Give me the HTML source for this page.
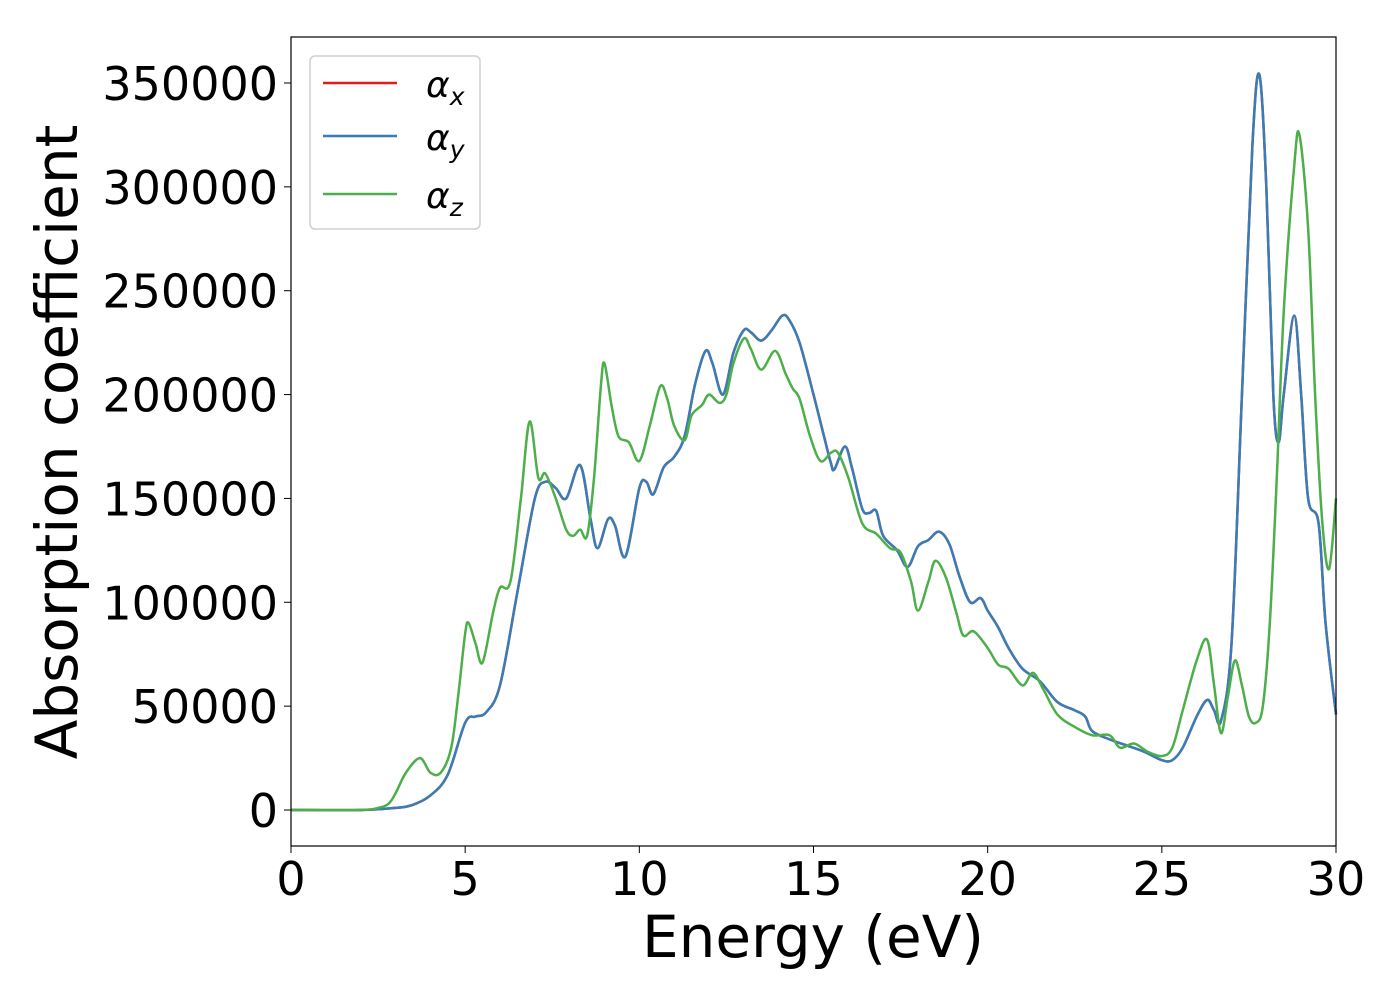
<!DOCTYPE html>
<html><head><meta charset="utf-8"><style>
body{margin:0;background:#fff;}
svg text{font-family:"DejaVu Sans","Liberation Sans",sans-serif;}
</style></head><body>
<svg id="chart" width="1400" height="1000" xmlns="http://www.w3.org/2000/svg">
<g id="plot"></g>
<g id="axes"></g>
<text x="813" y="957" font-size="58" text-anchor="middle">Energy (eV)</text>
<text transform="translate(77,442) rotate(-90)" font-size="58" text-anchor="middle">Absorption coefficient</text>
<g>
<rect x="310" y="56" width="170" height="173" rx="5" fill="#fff" stroke="#d0d0d0" stroke-width="1.5"/>
<line x1="323" y1="83" x2="397" y2="83" stroke="#e41a1c" stroke-width="2.5"/>
<text x="426" y="97" font-size="36" font-style="italic">α<tspan font-size="25" dy="8">x</tspan></text>
<line x1="323" y1="136" x2="397" y2="136" stroke="#377eb8" stroke-width="2.5"/>
<text x="426" y="150" font-size="36" font-style="italic">α<tspan font-size="25" dy="8">y</tspan></text>
<line x1="323" y1="194" x2="397" y2="194" stroke="#4daf4a" stroke-width="2.5"/>
<text x="426" y="208" font-size="36" font-style="italic">α<tspan font-size="25" dy="8">z</tspan></text>
</g>
</svg>
<script>
const xyEnergy=[0,2,3,3.5,4,4.5,5,5.3,5.6,6,6.5,7,7.3,7.6,7.9,8.3,8.6,8.8,9.1,9.3,9.6,10,10.2,10.4,10.7,11,11.3,11.6,11.9,12.1,12.4,12.7,13,13.2,13.5,13.8,14.1,14.3,14.6,15,15.3,15.5,15.6,15.9,16.1,16.4,16.6,16.8,17,17.4,17.7,18,18.3,18.6,18.9,19.2,19.5,19.8,20,20.3,20.6,21,21.5,22,22.5,22.8,23,23.5,24,24.5,25,25.3,25.6,26,26.3,26.5,26.7,27,27.3,27.6,27.8,28,28.2,28.35,28.5,28.8,29,29.2,29.5,29.7,30];
const xyValues=[0,0,1000,2500,7000,17000,42000,45000,47000,60000,105000,150000,158000,155000,150000,166000,140000,126000,140000,137000,122000,155000,158000,152000,165000,170000,180000,205000,221000,215000,200000,220000,231000,230000,226000,231000,238000,236000,225000,200000,180000,167000,164000,175000,165000,145000,143000,144000,132000,125000,117000,127000,130000,134000,128000,112000,100000,102000,96000,88000,78000,68000,62000,52000,48000,45000,38000,34000,31000,28000,24000,24000,30000,45000,53000,48000,43000,80000,200000,320000,354000,300000,200000,177000,200000,238000,200000,150000,138000,90000,46000];
const zEnergy=[0,2,2.5,2.8,3,3.3,3.7,4,4.3,4.6,4.8,5,5.1,5.3,5.5,5.8,6,6.3,6.6,6.85,7.1,7.3,7.6,7.9,8.1,8.3,8.5,8.7,8.9,9,9.2,9.4,9.7,10,10.3,10.6,10.8,11,11.3,11.5,11.8,12,12.3,12.5,12.7,13,13.2,13.5,13.9,14.2,14.4,14.6,14.9,15.2,15.5,15.7,16,16.4,16.8,17.2,17.5,17.8,18,18.3,18.5,18.8,19.1,19.3,19.6,20,20.3,20.6,21,21.3,21.6,22,22.5,23,23.5,23.8,24.2,24.6,25,25.3,25.6,26,26.3,26.5,26.7,26.9,27.1,27.3,27.5,27.7,27.9,28.1,28.3,28.5,28.8,28.95,29.2,29.4,29.6,29.8,30];
const zValues=[0,0,1000,3000,8000,18000,25000,18000,18000,30000,55000,85000,90000,80000,71000,95000,107000,110000,150000,187000,160000,162000,150000,135000,132000,135000,132000,160000,205000,215000,195000,180000,177000,168000,185000,204000,198000,185000,178000,190000,195000,200000,196000,200000,215000,227000,222000,212000,221000,210000,203000,198000,180000,168000,172000,172000,160000,138000,133000,126000,124000,110000,96000,110000,120000,112000,95000,84000,86000,78000,70000,68000,60000,66000,58000,46000,40000,36000,36000,30000,32000,28000,26000,30000,48000,72000,82000,60000,37000,55000,72000,60000,45000,42000,50000,90000,160000,240000,310000,325000,280000,200000,140000,116000,150000];
const xTicks=[0,5,10,15,20,25,30];
const yTicks=[0,50000,100000,150000,200000,250000,300000,350000];
const X0=291,X1=1336,Y0=810,YT=83;
const sx=v=>X0+(v/30)*(X1-X0);
const sy=v=>Y0-(v/350000)*(Y0-YT);
const NS="http://www.w3.org/2000/svg";
function smooth(xs,ys){
  const p=xs.map((x,i)=>[sx(x),sy(ys[i])]);
  let d="M"+p[0][0]+","+p[0][1];
  for(let i=0;i<p.length-1;i++){
    const a=p[Math.max(i-1,0)],b=p[i],c=p[i+1],e=p[Math.min(i+2,p.length-1)];
    const c1=[b[0]+(c[0]-a[0])/6,b[1]+(c[1]-a[1])/6],c2=[c[0]-(e[0]-b[0])/6,c[1]-(e[1]-b[1])/6];
    d+=" C"+c1[0]+","+c1[1]+" "+c2[0]+","+c2[1]+" "+c[0]+","+c[1];
  }
  return d;
}
const plot=document.getElementById('plot');
function addLine(xs,ys,color,name){
  const el=document.createElementNS(NS,'path');
  el.setAttribute('d',smooth(xs,ys));
  el.setAttribute('fill','none');el.setAttribute('stroke',color);el.setAttribute('stroke-width','2.5');
  
  
  plot.appendChild(el);
}
addLine(xyEnergy,xyValues,'#e41a1c','alpha-x-line');
addLine(xyEnergy,xyValues,'#377eb8','alpha-y-line');
addLine(zEnergy,zValues,'#4daf4a','alpha-z-line');
const axes=document.getElementById('axes');
const frame=document.createElementNS(NS,'rect');
frame.setAttribute('x',X0);frame.setAttribute('y',37);frame.setAttribute('width',X1-X0);frame.setAttribute('height',846-37);
frame.setAttribute('fill','none');frame.setAttribute('stroke','#000');frame.setAttribute('stroke-width','1.2');


axes.appendChild(frame);
xTicks.forEach(t=>{
  const l=document.createElementNS(NS,'line');
  l.setAttribute('x1',sx(t));l.setAttribute('x2',sx(t));l.setAttribute('y1',846);l.setAttribute('y2',853);l.setAttribute('stroke','#000');
  
  
  axes.appendChild(l);
  const tx=document.createElementNS(NS,'text');
  tx.setAttribute('x',sx(t));tx.setAttribute('y',895);tx.setAttribute('font-size','46');tx.setAttribute('text-anchor','middle');
  tx.textContent=t;
  
  
  axes.appendChild(tx);
});
yTicks.forEach(t=>{
  const l=document.createElementNS(NS,'line');
  l.setAttribute('x1',284);l.setAttribute('x2',X0);l.setAttribute('y1',sy(t));l.setAttribute('y2',sy(t));l.setAttribute('stroke','#000');
  
  
  axes.appendChild(l);
  const tx=document.createElementNS(NS,'text');
  tx.setAttribute('x',278);tx.setAttribute('y',sy(t)+17);tx.setAttribute('font-size','46');tx.setAttribute('text-anchor','end');
  tx.textContent=t;
  
  
  axes.appendChild(tx);
});
</script>
</body></html>
